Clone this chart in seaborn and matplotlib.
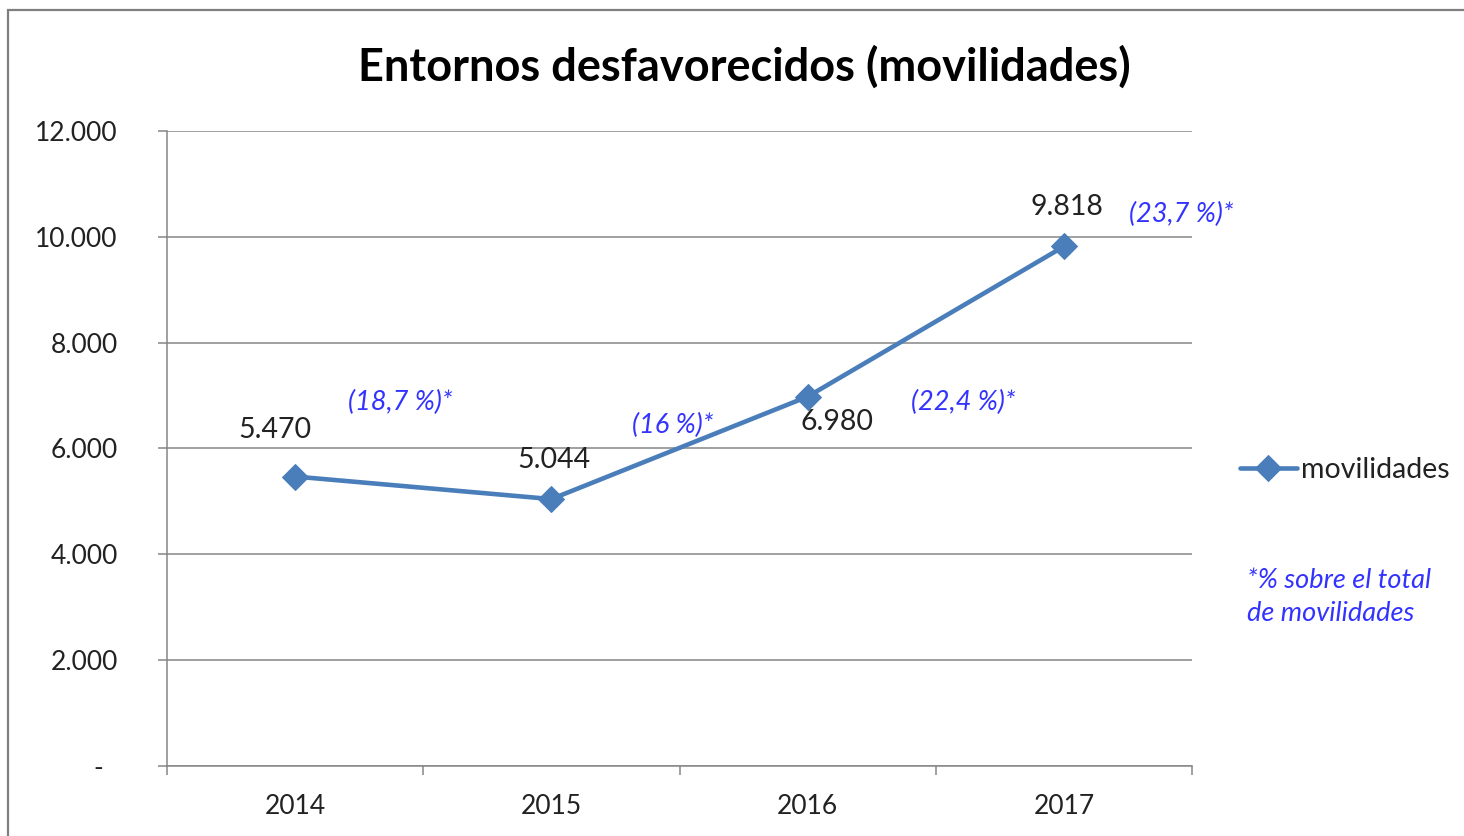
import pandas as pd
import seaborn as sns
import matplotlib.pyplot as plt
from matplotlib.patches import Rectangle
from matplotlib.ticker import FixedLocator

years = [2014, 2015, 2016, 2017]
movilidades = [5470, 5044, 6980, 9818]
value_labels = ["5.470", "5.044", "6.980", "9.818"]
pct_labels = ["(18,7 %)*", "(16 %)*", "(22,4 %)*", "(23,7 %)*"]
y_ticks = [0, 2000, 4000, 6000, 8000, 10000, 12000]
y_tick_labels = ["-  ", "2.000", "4.000", "6.000", "8.000", "10.000", "12.000"]

df = pd.DataFrame({"year": years, "movilidades": movilidades})

sns.set_theme(style="white")
plt.rcParams["font.family"] = ["Lato", "DejaVu Sans"]

line_color = "#4A7EBB"
grid_color = "#868686"
blue_txt = "#3333FF"
px = 0.72  # points per pixel at dpi 100

fig = plt.figure(figsize=(14.64, 8.36), dpi=100)
ax = fig.add_axes([167 / 1464, 1 - 766 / 836, 1025 / 1464, 635 / 836])

# chart frame
fig.patches.append(Rectangle((8 / 1464, -0.1), 1.2, 1 - 10 / 836 + 0.1,
                             transform=fig.transFigure, fill=False,
                             edgecolor="#7F7F7F", linewidth=1.6, zorder=0))

sns.lineplot(data=df, x="year", y="movilidades", ax=ax, color=line_color,
             linewidth=3.3, marker="D", markersize=13, markeredgecolor=line_color,
             label="movilidades", legend=False)

ax.set_xlim(2013.5, 2017.5)
ax.set_ylim(0, 12000)
ax.set_xlabel("")
ax.set_ylabel("")

ax.yaxis.set_major_locator(FixedLocator(y_ticks))
ax.set_yticklabels(y_tick_labels)
ax.yaxis.grid(True, color=grid_color, linewidth=1.1)
ax.set_axisbelow(True)

ax.set_xticks(years)
ax.set_xticklabels([str(y) for y in years])
ax.set_xticks([2013.5, 2014.5, 2015.5, 2016.5, 2017.5], minor=True)

ax.tick_params(axis="x", which="major", length=0, pad=20, labelsize=19, labelcolor="#222222")
ax.tick_params(axis="x", which="minor", bottom=True, length=6.5, width=1.1, color=grid_color)
ax.tick_params(axis="y", which="major", left=True, length=6.5, width=1.1, color=grid_color,
               pad=29, labelsize=19, labelcolor="#222222")

for side in ["top", "right"]:
    ax.spines[side].set_visible(False)
for side in ["left", "bottom"]:
    ax.spines[side].set_color(grid_color)
    ax.spines[side].set_linewidth(1.1)

# data labels
val_offsets = [(-20, 47), (3, 39), (29, -25), (3, 39)]
for x, y, lab, (dx, dy) in zip(years, movilidades, value_labels, val_offsets):
    ax.annotate(lab, (x, y), xytext=(dx * px, dy * px), textcoords="offset points",
                ha="center", va="center", fontsize=20.5, color="#222222")

pct_offsets = [(105, 74), (121, 74), (156, -6), (117, 32)]
for x, y, lab, (dx, dy) in zip(years, movilidades, pct_labels, pct_offsets):
    ax.annotate(lab, (x, y), xytext=(dx * px, dy * px), textcoords="offset points",
                ha="center", va="center", fontsize=19.5, color=blue_txt,
                style="italic", annotation_clip=False)

fig.text(744 / 1464, 1 - 67 / 836, "Entornos desfavorecidos (movilidades)",
         ha="center", va="center", fontsize=32.5, fontweight="bold", color="black")

leg = fig.legend(loc="center left", bbox_to_anchor=(1240 / 1464, 1 - 470 / 836),
                 frameon=False, fontsize=20.5, handlelength=2.0, handletextpad=0.15,
                 borderaxespad=0, borderpad=0)
for t in leg.get_texts():
    t.set_color("#222222")

fig.text(1247 / 1464, 1 - 597 / 836, "*% sobre el total\nde movilidades",
         ha="left", va="center", fontsize=19.5, color=blue_txt, style="italic",
         linespacing=1.4)

fig.savefig("out.png", dpi=100)
